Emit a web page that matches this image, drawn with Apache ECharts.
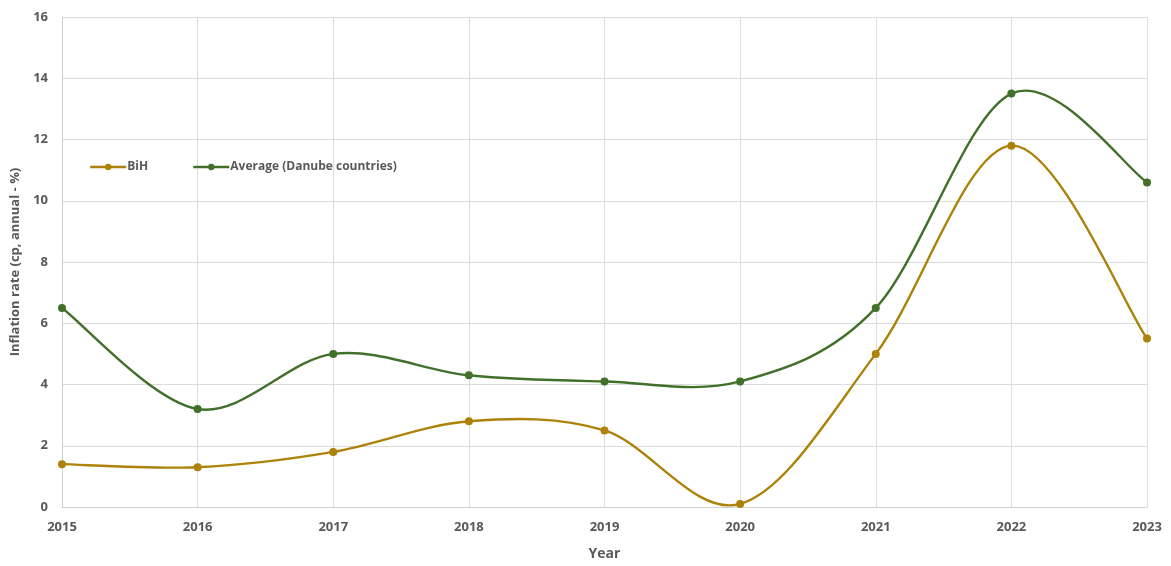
<!DOCTYPE html>
<html>
<head>
<meta charset="utf-8">
<script src="https://cdn.jsdelivr.net/npm/echarts@6/dist/echarts.min.js"></script>
<style>
  html, body { margin: 0; padding: 0; background: #fff; }
  #chart { width: 1171px; height: 566px; }
</style>
</head>
<body>
<div id="chart"></div>
<script>
// Annual inflation rate, BiH vs. average of Danube countries
const years = ['2015', '2016', '2017', '2018', '2019', '2020', '2021', '2022', '2023'];
const bih = [1.4, 1.3, 1.8, 2.8, 2.5, 0.1, 5.0, 11.8, 5.5];
const danubeAvg = [6.5, 3.2, 5.0, 4.3, 4.1, 4.1, 6.5, 13.5, 10.6];

const labelFont = '"Liberation Sans Narrow", "Open Sans", sans-serif';
const textColor = '#595959';
const colBih = '#ad8209';
const colAvg = '#41702b';

const chart = echarts.init(document.getElementById('chart'), null, { renderer: 'canvas' });

// Catmull-Rom style curve: each data item draws the cubic segment to the next one,
// with control points taken from its neighbours (positions come from api.coord).
function curveSeries(values, color) {
  return {
    type: 'custom',
    z: 2,
    silent: true,
    data: values.map(function (v, i) { return [i, v]; }),
    encode: { x: 0, y: 1 },
    renderItem: function (params, api) {
      const i = params.dataIndex;
      const n = values.length;
      if (i >= n - 1) return null;
      const pt = function (j) {
        j = Math.max(0, Math.min(n - 1, j));
        return api.coord([j, values[j]]);
      };
      const p0 = pt(i - 1), p1 = pt(i), p2 = pt(i + 1), p3 = pt(i + 2);
      const k = 1 / 6;
      return {
        type: 'bezierCurve',
        shape: {
          x1: p1[0], y1: p1[1],
          x2: p2[0], y2: p2[1],
          cpx1: p1[0] + (p2[0] - p0[0]) * k,
          cpy1: p1[1] + (p2[1] - p0[1]) * k,
          cpx2: p2[0] - (p3[0] - p1[0]) * k,
          cpy2: p2[1] - (p3[1] - p1[1]) * k
        },
        style: { stroke: color, fill: 'none', lineWidth: 2.4 }
      };
    }
  };
}

// Markers (and legend entries) for each series
function markerSeries(name, values, color) {
  return {
    name: name,
    type: 'line',
    z: 3,
    data: values,
    symbol: 'circle',
    symbolSize: 8,
    lineStyle: { color: color, width: 2.4, opacity: 0 },
    itemStyle: { color: color },
    emphasis: { disabled: true }
  };
}

chart.setOption({
  animation: false,
  backgroundColor: '#ffffff',
  grid: { left: 62, right: 24, top: 17, bottom: 55 },
  legend: {
    left: 84,
    top: 156,
    itemWidth: 36,
    itemHeight: 8,
    itemGap: 44,
    textStyle: { color: textColor, fontFamily: '"Open Sans", sans-serif', fontWeight: 'bold', fontSize: 12, padding: [0, 0, 0, -4] },
    data: [
      { name: 'BiH', lineStyle: { color: colBih, width: 2.4, opacity: 1 } },
      { name: 'Average (Danube countries)', lineStyle: { color: colAvg, width: 2.4, opacity: 1 } }
    ]
  },
  xAxis: {
    type: 'category',
    data: years,
    boundaryGap: false,
    name: 'Year',
    nameLocation: 'middle',
    nameGap: 40,
    nameTextStyle: { color: textColor, fontFamily: labelFont, fontWeight: 'bold', fontSize: 14 },
    axisLine: { show: true, lineStyle: { color: '#d0d0d0', width: 1 } },
    axisTick: { show: false },
    axisLabel: { color: textColor, fontFamily: labelFont, fontWeight: 'bold', fontSize: 13, margin: 14 },
    splitLine: { show: true, lineStyle: { color: '#dcdcdc', width: 1 } }
  },
  yAxis: {
    type: 'value',
    min: 0,
    max: 16,
    interval: 2,
    name: 'Inflation rate (cp, annual - %)',
    nameLocation: 'middle',
    nameRotate: 90,
    nameGap: 40,
    nameTextStyle: { color: textColor, fontFamily: '"Open Sans", sans-serif', fontWeight: 'bold', fontSize: 13 },
    axisLine: { show: true, lineStyle: { color: '#d0d0d0', width: 1 } },
    axisTick: { show: false },
    axisLabel: { color: textColor, fontFamily: labelFont, fontWeight: 'bold', fontSize: 13, margin: 14 },
    splitLine: { show: true, lineStyle: { color: '#dcdcdc', width: 1 } }
  },
  series: [
    curveSeries(bih, colBih),
    curveSeries(danubeAvg, colAvg),
    markerSeries('BiH', bih, colBih),
    markerSeries('Average (Danube countries)', danubeAvg, colAvg)
  ]
});
</script>
</body>
</html>
